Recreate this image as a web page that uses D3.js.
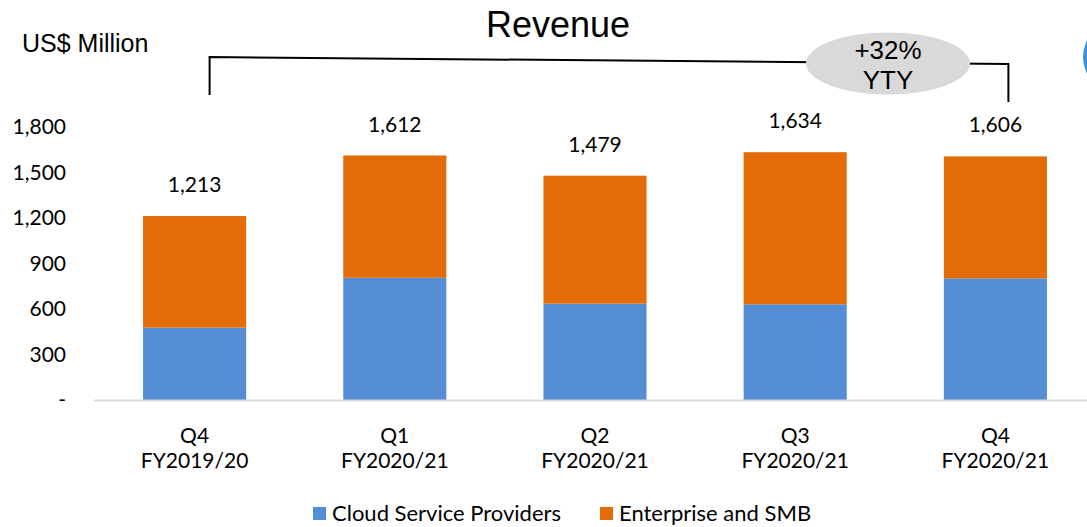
<!DOCTYPE html>
<html>
<head>
    <meta charset="utf-8">
    <title>Revenue</title>
    <script src="https://cdn.jsdelivr.net/npm/d3@7"></script>
    <style>
        body { margin: 0; background: #fff; }
        text { fill: #000; }
    </style>
</head>
<body>
    <script>
        // data
        var quarters = ["Q4", "Q1", "Q2", "Q3", "Q4"];
        var fiscalYears = ["FY2019/20", "FY2020/21", "FY2020/21", "FY2020/21", "FY2020/21"];
        var cloud = [477, 806, 635, 631, 802];
        var enterprise = [736, 806, 844, 1003, 804];
        var totals = [1213, 1612, 1479, 1634, 1606];
        var yTicks = [0, 300, 600, 900, 1200, 1500, 1800];
        var seriesNames = ["Cloud Service Providers", "Enterprise and SMB"];
        var growthText = ["+32%", "YTY"];

        var svgWidth = 1087;
        var svgHeight = 527;
        var colors = ["#558ed5", "#e36c09"];
        var calibri = "Lato, 'Noto Sans', sans-serif";
        var arial = "'Liberation Sans', Arial, sans-serif";

        var svg = d3.select("body")
                    .append("svg")
                    .attr("width", svgWidth)
                    .attr("height", svgHeight);

        var rows = quarters.map(function(q, i) {
            return {key: i, cloud: cloud[i], enterprise: enterprise[i], total: totals[i]};
        });

        var x = d3.scaleBand()
                  .domain(d3.range(quarters.length))
                  .range([94.5, 1095.5])
                  .paddingInner(0.485)
                  .paddingOuter(0.2425);

        var y = d3.scaleLinear().domain([0, 1800]).range([400, 127]);

        var stack = d3.stack().keys(["cloud", "enterprise"])(rows);

        // bars
        svg.selectAll("g.series")
           .data(stack)
           .enter()
           .append("g")
           .attr("class", "series")
           .attr("fill", function(d, i) { return colors[i]; })
           .selectAll("rect")
           .data(function(d) { return d; })
           .enter()
           .append("rect")
           .attr("x", function(d) { return x(d.data.key); })
           .attr("y", function(d) { return y(d[1]); })
           .attr("width", x.bandwidth())
           .attr("height", function(d) { return y(d[0]) - y(d[1]); });

        // baseline
        svg.append("line")
           .attr("x1", 94).attr("x2", svgWidth)
           .attr("y1", y(0) + 0.5).attr("y2", y(0) + 0.5)
           .attr("stroke", "#d9d9d9")
           .attr("stroke-width", 2);

        // y axis labels (no line, no ticks)
        var yAxis = d3.axisLeft(y)
                      .tickValues(yTicks)
                      .tickSize(0)
                      .tickPadding(0)
                      .tickFormat(function(d) { return d === 0 ? "-" : d3.format(",")(d); });
        var gy = svg.append("g").attr("transform", "translate(66,0)").call(yAxis);
        gy.select(".domain").remove();
        gy.selectAll("text")
          .attr("font-family", calibri)
          .attr("font-size", 21)
          .attr("fill", "#000");

        // total labels
        svg.selectAll("text.total")
           .data(rows)
           .enter()
           .append("text")
           .attr("class", "total")
           .attr("x", function(d) { return x(d.key) + x.bandwidth() / 2; })
           .attr("y", function(d) { return y(d.total) - 24; })
           .attr("text-anchor", "middle")
           .attr("font-family", calibri)
           .attr("font-size", 21)
           .text(function(d) { return d3.format(",")(d.total); });

        // category labels
        var cat = svg.selectAll("text.cat")
           .data(rows)
           .enter()
           .append("text")
           .attr("class", "cat")
           .attr("text-anchor", "middle")
           .attr("font-family", calibri)
           .attr("font-size", 21);
        cat.append("tspan")
           .attr("x", function(d) { return x(d.key) + x.bandwidth() / 2; })
           .attr("y", 443)
           .text(function(d) { return quarters[d.key]; });
        cat.append("tspan")
           .attr("x", function(d) { return x(d.key) + x.bandwidth() / 2; })
           .attr("y", 468)
           .text(function(d) { return fiscalYears[d.key]; });

        // title and unit
        svg.append("text")
           .attr("x", 558).attr("y", 37)
           .attr("text-anchor", "middle")
           .attr("font-family", arial)
           .attr("font-size", 36)
           .text("Revenue");
        svg.append("text")
           .attr("x", 22).attr("y", 52)
           .attr("font-family", arial)
           .attr("font-size", 25)
           .text("US$ Million");

        // growth bracket from first to last bar
        var left = x(0) + x.bandwidth() / 2 + 15;
        var right = x(4) + x.bandwidth() / 2 + 13;
        svg.append("path")
           .attr("d", "M" + left + ",95 L" + left + ",57 L" + right + ",64 L" + right + ",102")
           .attr("fill", "none")
           .attr("stroke", "#000")
           .attr("stroke-width", 2);

        svg.append("ellipse")
           .attr("cx", 888).attr("cy", 63.5)
           .attr("rx", 82).attr("ry", 31)
           .attr("fill", "#d9d9d9");

        svg.selectAll("text.growth")
           .data(growthText)
           .enter()
           .append("text")
           .attr("class", "growth")
           .attr("x", 888)
           .attr("y", function(d, i) { return 59 + i * 30; })
           .attr("text-anchor", "middle")
           .attr("font-family", arial)
           .attr("font-size", 26)
           .text(function(d) { return d; });

        // clipped blue circle at the right edge
        svg.append("circle")
           .attr("cx", 1119).attr("cy", 57)
           .attr("r", 36)
           .attr("fill", "#3d8fe0");

        // legend
        var legend = svg.selectAll("g.legend")
           .data(seriesNames)
           .enter()
           .append("g")
           .attr("class", "legend")
           .attr("transform", function(d, i) { return "translate(" + [313, 600][i] + ",507)"; });
        legend.append("rect")
           .attr("width", 13).attr("height", 13)
           .attr("fill", function(d, i) { return colors[i]; });
        legend.append("text")
           .attr("x", 19).attr("y", 14)
           .attr("font-family", calibri)
           .attr("font-size", 22)
           .text(function(d) { return d; });
    </script>
</body>
</html>
